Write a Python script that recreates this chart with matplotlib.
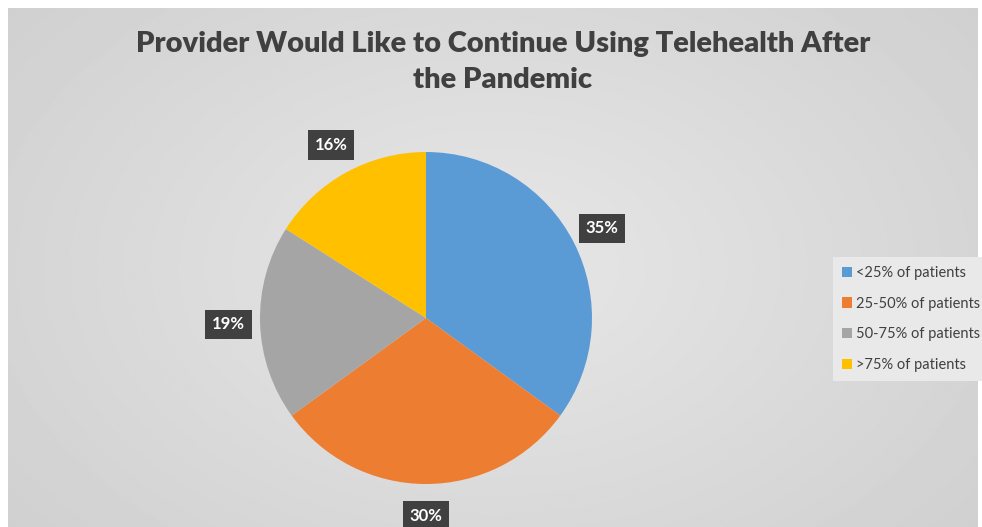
import numpy as np
import matplotlib
matplotlib.use("Agg")
import matplotlib.pyplot as plt

# chart data
categories = ["<25% of patients", "25-50% of patients",
              "50-75% of patients", ">75% of patients"]
shares = [35, 30, 19, 16]
colors = ["#5B9BD5", "#ED7D31", "#A5A5A5", "#FFC000"]
title = "Provider Would Like to Continue Using Telehealth After\nthe Pandemic"

W, H = 982, 527
fig = plt.figure(figsize=(W / 100, H / 100), dpi=100)
fig.patch.set_facecolor("white")

# gray radial gradient background (chart area)
bg = fig.add_axes([8 / W, 0, (978 - 8) / W, (H - 8) / H])
yy, xx = np.mgrid[-1:1:300j, -1:1:500j]
r = np.sqrt(xx ** 2 + (yy * 0.8) ** 2)
shade = 0.905 - 0.07 * r
bg.imshow(shade, cmap="gray", vmin=0, vmax=1, aspect="auto",
          extent=[0, 1, 0, 1])
bg.set_axis_off()

# pie: center (426, 318) px, radius 166 px
cx, cy, R = 426, 318, 166
span = 1.5 * R
ax = fig.add_axes([(cx - span) / W, (H - cy - span) / H,
                   2 * span / W, 2 * span / H])
ax.set_facecolor("none")
wedges, texts, autotexts = ax.pie(
    shares, colors=colors, startangle=90, counterclock=False,
    radius=1, autopct=lambda p: f"{p:.0f}%", pctdistance=1.19,
    wedgeprops=dict(linewidth=0),
    textprops=dict(color="white", fontsize=12, fontweight="bold",
                   family="Lato"))
for t in autotexts:
    t.set_bbox(dict(boxstyle="square,pad=0.4", fc="#404040", ec="none"))
ax.set_xlim(-1.5, 1.5)
ax.set_ylim(-1.5, 1.5)
ax.set_aspect("auto")

fig.text(503 / W, 1 - 62 / H, title, ha="center", va="center",
         fontsize=21, fontweight="heavy", color="#404040", family="Lato",
         linespacing=1.5)

leg = fig.legend(wedges, categories, loc="upper left",
                 bbox_to_anchor=(833 / W, 1 - 257 / H),
                 frameon=True, fancybox=False, framealpha=1,
                 facecolor="#e9e9e9", edgecolor="none",
                 handlelength=0.7, handleheight=0.7, handletextpad=0.3,
                 labelspacing=1.15, borderpad=0.6, borderaxespad=0,
                 prop=dict(family="Lato", size=10.5))
for txt in leg.get_texts():
    txt.set_color("#404040")

fig.savefig("out.png", dpi=100)
